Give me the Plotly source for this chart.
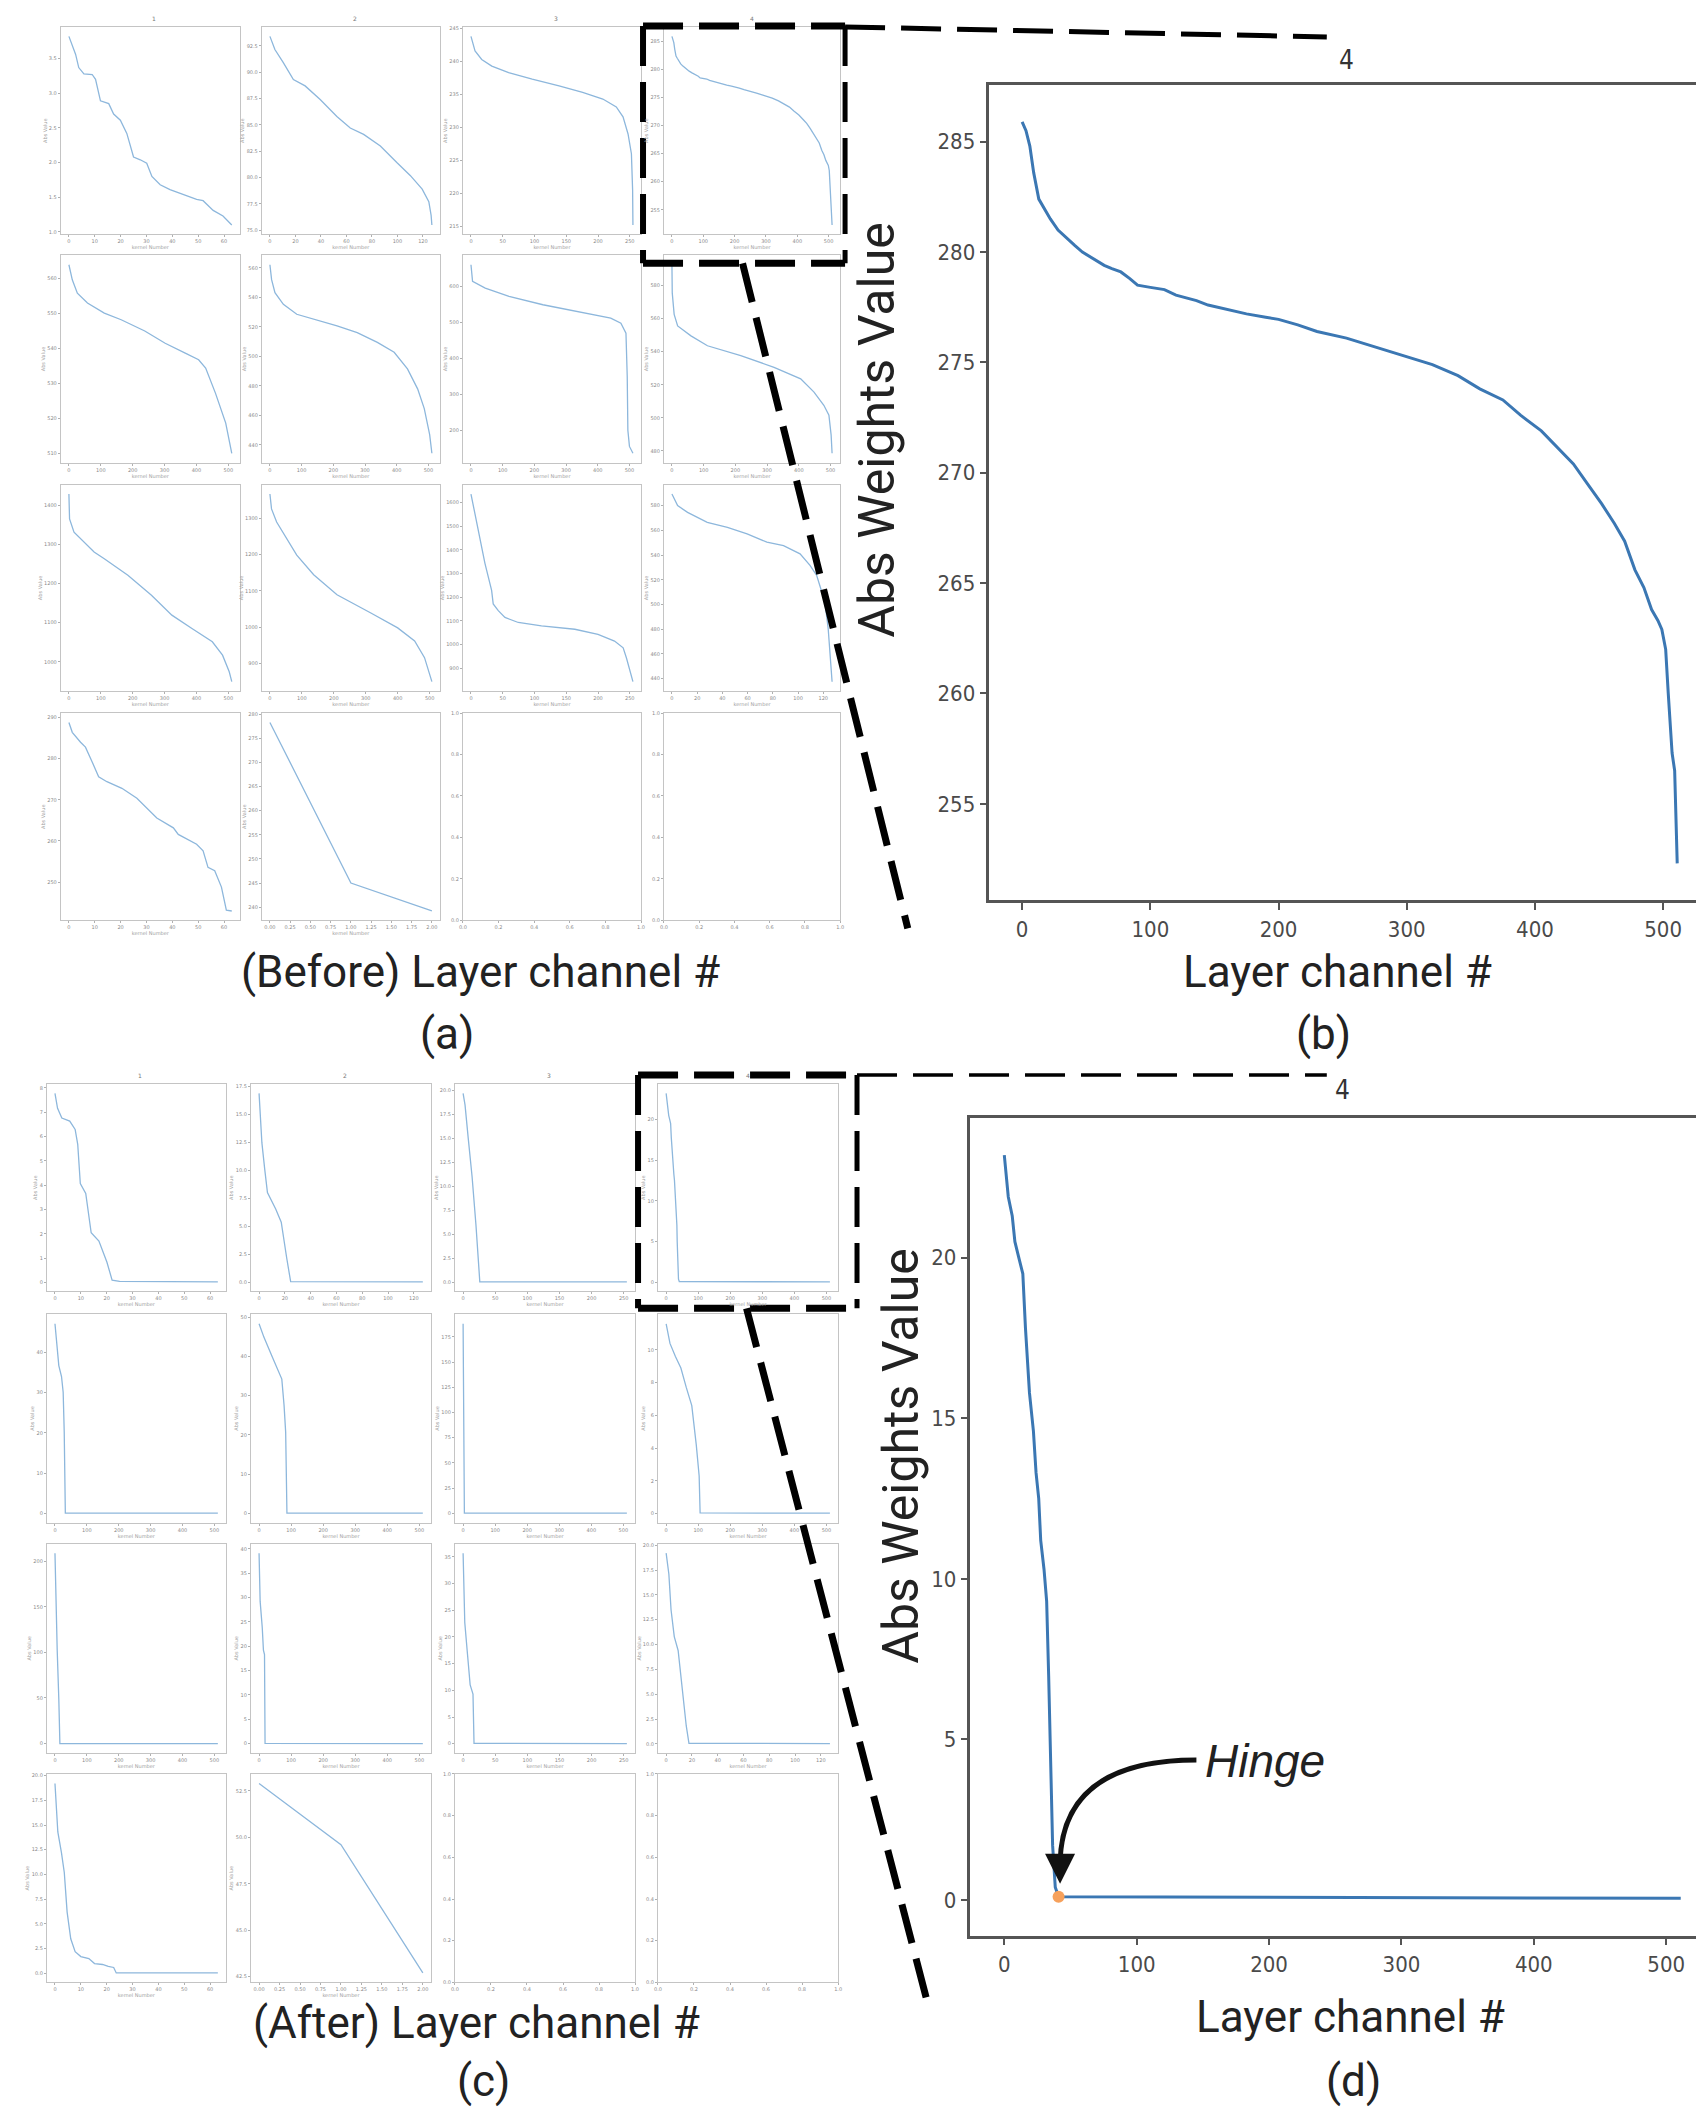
import plotly.graph_objects as go

W, H = 1704, 2116
OX, OY = 8, 8  # the page body margin shifts the figure; coordinates below are page pixels

# ---------------- data: (a) "Before" small multiples ----------------
a11_x = [0, 2.6, 3.8, 5.8, 9, 10.3, 12.2, 13.5, 15.4, 17.3, 19.9, 22.4, 25, 27.6, 30.1, 32.1, 35.3, 39.1, 44.2, 49.4, 51.9, 55.8, 59.6, 62.2, 63]
a11_y = [3.82, 3.56, 3.37, 3.28, 3.27, 3.2, 2.89, 2.87, 2.85, 2.70, 2.61, 2.42, 2.08, 2.04, 1.99, 1.80, 1.68, 1.61, 1.54, 1.47, 1.45, 1.31, 1.23, 1.12, 1.10]
a12_x = [0, 3.9, 10.5, 18.4, 27.6, 39.4, 52.5, 63, 73.5, 86.6, 99.7, 110, 119.4, 124.6, 126.4, 127]
a12_y = [93.4, 92.15, 90.9, 89.3, 88.7, 87.4, 85.8, 84.7, 84.1, 83.0, 81.4, 80.2, 78.9, 77.7, 76.4, 75.5]
a13_x = [0, 6.4, 16.9, 32.8, 59.3, 96.4, 138.7, 175.8, 207.6, 228.8, 239.4, 247.3, 252.6, 254.5, 255]
a13_y = [243.8, 241.6, 240.3, 239.3, 238.3, 237.3, 236.3, 235.3, 234.3, 233.1, 231.6, 229.0, 226.0, 220.5, 215.2]
a14_x = [0, 3, 6, 9, 13, 17, 22, 28, 35, 41, 47, 55, 64, 70, 77, 84, 90, 100, 111, 120, 136, 145, 160, 175, 190, 200,
         215, 230, 253, 270, 290, 305, 320, 340, 357, 375, 389, 405, 420, 430, 441, 452, 462, 470, 478, 485, 491, 496,
         499, 502, 504, 507, 509, 511]
a14_y = [285.9, 285.5, 284.8, 283.6, 282.4, 282.0, 281.5, 281.0, 280.6, 280.3, 280.0, 279.7, 279.4, 279.25, 279.1,
         278.8, 278.5, 278.4, 278.3, 278.05, 277.8, 277.6, 277.4, 277.2, 277.05, 276.95, 276.7, 276.4, 276.1, 275.8,
         275.45, 275.2, 274.9, 274.4, 273.8, 273.3, 272.6, 271.9, 271.0, 270.4, 269.5, 268.6, 267.7, 266.9, 265.6,
         264.8, 263.8, 263.3, 262.9, 262.0, 260.0, 257.3, 256.5, 252.3]
a21_x = [0, 10.6, 26.5, 58.2, 111, 164, 238, 302, 365, 407, 429, 460, 492, 511]
a21_y = [563.8, 559.5, 555.7, 552.9, 550, 548.1, 544.9, 541.4, 538.6, 536.7, 534.3, 527.1, 518.6, 510]
a22_x = [0, 5.3, 15.9, 42.4, 84.7, 159, 211.8, 275.4, 339, 392, 434, 466, 487, 504, 511]
a22_y = [562.2, 552.1, 543.2, 535.3, 528.6, 524.1, 520.7, 516.2, 509.5, 502.8, 491.5, 478, 464.6, 446.9, 434.3]
a23_x = [0, 2, 5, 45, 120, 227, 334, 441, 473, 489, 493, 495, 500, 511]
a23_y = [659, 627, 613, 594, 571, 548, 530, 511, 497, 469, 349, 200, 155, 136]
a24_x = [0, 1, 7, 18, 60, 112, 217, 322, 406, 448, 479, 495, 502, 505]
a24_y = [592.6, 575.6, 562.6, 555.6, 549.6, 543.6, 537.6, 530.6, 523.6, 515.6, 507.6, 501.6, 489.6, 478.6]
a31_x = [0, 2, 16, 48, 79, 111, 185, 259, 323, 386, 450, 482, 503, 511]
a31_y = [1429.6, 1365.8, 1331.9, 1306.4, 1281, 1263.8, 1221.4, 1170.4, 1119.4, 1085.3, 1051.3, 1017, 974.5, 949]
a32_x = [0, 5, 21, 52, 84, 137, 210, 316, 400, 453, 484, 507]
a32_y = [1366, 1325, 1289, 1244, 1198, 1144, 1089, 1039, 998, 962, 916, 850]
a33_x = [0, 11.6, 22, 32.5, 35, 43, 53.5, 74.5, 111, 163.5, 200, 226, 239.6, 244.8, 255]
a33_y = [1635.6, 1485.6, 1342.9, 1228.6, 1171.4, 1142.8, 1114.3, 1092.9, 1078.6, 1064.3, 1042.9, 1014.3, 985.7, 942.9, 842.8]
a34_x = [0, 4.5, 12.4, 28, 44, 59.6, 75.3, 88.5, 101.6, 109.5, 114.8, 121.3, 123.9, 127]
a34_y = [589.4, 580, 574.6, 566.5, 562.5, 557.1, 550.4, 547.7, 541, 531.6, 523.5, 502, 480.5, 437.5]
a41_x = [0, 1.3, 4.5, 6.4, 9, 11.5, 14.7, 20.5, 26.3, 30.1, 34, 40.4, 42.3, 49.4, 51.9, 53.8, 56.4, 59, 60.9, 63]
a41_y = [288.8, 286.4, 284, 282.8, 279.2, 275.6, 274.4, 272.8, 270.4, 268, 265.6, 263.2, 261.6, 259.2, 257.6, 253.6, 252.8, 248.8, 243.2, 243]
a42_x = [0, 1, 2]
a42_y = [278.3, 245.0, 239.2]

# ---------------- data: (c) "After" small multiples ----------------
c11_x = [0, 1, 2.65, 5.7, 7.8, 8.8, 9.8, 11.9, 14, 17, 20.1, 22.1, 25, 63]
c11_y = [7.77, 7.16, 6.76, 6.63, 6.29, 5.68, 4.07, 3.66, 2.05, 1.71, 0.84, 0.1, 0.05, 0.03]
c12_x = [0, 2.2, 4.4, 6.5, 12.9, 17.2, 21.5, 24.5, 127]
c12_y = [16.85, 12.43, 10.07, 8.01, 6.54, 5.36, 2.12, 0.05, 0.03]
c13_x = [0, 3, 8, 14, 20, 24, 26, 255]
c13_y = [19.7, 18.5, 15.0, 11.0, 6.0, 1.5, 0.05, 0.03]
c14_x = [0, 3, 6, 8, 11, 14, 16, 17, 19, 22, 24, 26, 27.5, 30, 32, 33.5, 34.5, 36.5, 38.5, 41, 511]
c14_y = [23.2, 21.9, 21.3, 20.5, 20.0, 19.5, 17.8, 17.1, 15.8, 14.6, 13.3, 12.5, 11.2, 10.3, 9.3, 7.0, 5.0, 1.7, 0.4, 0.1, 0.05]
c21_x = [0, 12, 20.5, 25.7, 29, 32.5, 511]
c21_y = [47.1, 36.7, 34.0, 30.1, 20.2, 0.05, 0.03]
c22_x = [0, 15, 41, 58, 71, 78, 83, 87, 511]
c22_y = [48.3, 44.9, 39.9, 36.5, 34.2, 27.5, 20.7, 0.05, 0.03]
c23_x = [0, 1, 2, 4, 511]
c23_y = [188, 120, 50, 0.05, 0.03]
c24_x = [0, 12, 29, 46, 63, 80, 94, 103, 106, 511]
c24_y = [11.6, 10.4, 9.6, 8.9, 7.7, 6.6, 4.2, 2.3, 0.05, 0.03]
c31_x = [0, 3.4, 7, 12, 15.4, 511]
c31_y = [208.8, 146, 102.4, 48.8, 0.05, 0.03]
c32_x = [0, 3.4, 10, 13.6, 17, 18.7, 511]
c32_y = [39.1, 29.2, 23.8, 19.2, 18.3, 0.05, 0.03]
c33_x = [0, 2.6, 6.8, 11, 15.4, 17, 255]
c33_y = [35.7, 22.7, 16.8, 11.0, 9.3, 0.05, 0.03]
c34_x = [0, 2.1, 3.8, 6.3, 9.3, 11.4, 13.5, 15.6, 17.7, 127]
c34_y = [19.2, 17.1, 13.5, 10.8, 9.4, 6.7, 4.5, 1.8, 0.05, 0.03]
c41_x = [0, 1.1, 2.5, 3.6, 4.7, 6.1, 7.8, 10, 13.1, 15.3, 18.4, 20.6, 22.7, 23.7, 63]
c41_y = [19.2, 14.3, 12.2, 10.2, 6.2, 3.5, 2.2, 1.7, 1.5, 1.0, 0.9, 0.7, 0.6, 0.05, 0.05]
c42_x = [0, 1, 2]
c42_y = [52.9, 49.6, 42.7]

# hinge point on panel (d)
hinge_x = [41]
hinge_y = [0.1]

# tick values
T_x64 = [0, 10, 20, 30, 40, 50, 60]
T_x128 = [0, 20, 40, 60, 80, 100, 120]
T_x256 = [0, 50, 100, 150, 200, 250]
T_x512 = [0, 100, 200, 300, 400, 500]
T_x2 = [0, 0.25, 0.5, 0.75, 1.0, 1.25, 1.5, 1.75, 2.0]
T_unit = [0, 0.2, 0.4, 0.6, 0.8, 1.0]

a_yt = {
    '11': [1.0, 1.5, 2.0, 2.5, 3.0, 3.5],
    '12': [75.0, 77.5, 80.0, 82.5, 85.0, 87.5, 90.0, 92.5],
    '13': [215, 220, 225, 230, 235, 240, 245],
    '14': [255, 260, 265, 270, 275, 280, 285],
    '21': [510, 520, 530, 540, 550, 560],
    '22': [440, 460, 480, 500, 520, 540, 560],
    '23': [200, 300, 400, 500, 600],
    '24': [480, 500, 520, 540, 560, 580],
    '31': [1000, 1100, 1200, 1300, 1400],
    '32': [900, 1000, 1100, 1200, 1300],
    '33': [800, 900, 1000, 1100, 1200, 1300, 1400, 1500, 1600],
    '34': [440, 460, 480, 500, 520, 540, 560, 580],
    '41': [250, 260, 270, 280, 290],
    '42': [240, 245, 250, 255, 260, 265, 270, 275, 280],
}
c_yt = {
    '11': [0, 1, 2, 3, 4, 5, 6, 7, 8],
    '12': [0.0, 2.5, 5.0, 7.5, 10.0, 12.5, 15.0, 17.5],
    '13': [0.0, 2.5, 5.0, 7.5, 10.0, 12.5, 15.0, 17.5, 20.0],
    '14': [0, 5, 10, 15, 20],
    '21': [0, 10, 20, 30, 40],
    '22': [0, 10, 20, 30, 40, 50],
    '23': [0, 25, 50, 75, 100, 125, 150, 175],
    '24': [0, 2, 4, 6, 8, 10],
    '31': [0, 50, 100, 150, 200],
    '32': [0, 5, 10, 15, 20, 25, 30, 35, 40],
    '33': [0, 5, 10, 15, 20, 25, 30, 35],
    '34': [0.0, 2.5, 5.0, 7.5, 10.0, 12.5, 15.0, 17.5, 20.0],
    '41': [0.0, 2.5, 5.0, 7.5, 10.0, 12.5, 15.0, 17.5, 20.0],
    '42': [42.5, 45.0, 47.5, 50.0, 52.5],
}

big_b_yt = [255, 260, 265, 270, 275, 280, 285]
big_d_yt = [0, 5, 10, 15, 20]

# ---------------- layout geometry (page pixels) ----------------
a_cols = [(57, 237), (259, 438), (461, 640), (663, 840)]
a_rows = [(24, 232), (253, 461), (483, 690), (712, 920)]
c_cols = [(43, 223), (248, 429), (453, 634), (657, 838)]
c_rows = [(1084, 1292), (1315, 1524), (1545, 1755), (1776, 1985)]

fig = go.Figure()
layout = {}
annotations = []
shapes = []
counter = [0]

SMALL_LINE = '#8db7dc'


def px(x):
    return (x - OX) / W


def py(y):
    return 1 - (y - OY) / H


def mpl_range(v):
    lo, hi = min(v), max(v)
    m = (hi - lo) * 0.05
    return [lo - m, hi + m]


def fmt_for(ticks):
    if all(abs(t - round(t)) < 1e-9 for t in ticks):
        return 'd'
    if all(abs(t * 2 - round(t * 2)) < 1e-9 for t in ticks):
        return '.1f'
    return '.2f'


def add_small(col, row, xs, ys, xt, yt, title=None, empty=False):
    counter[0] += 1
    n = counter[0]
    l, r = col
    t, b = row
    xk = 'xaxis' if n == 1 else f'xaxis{n}'
    yk = 'yaxis' if n == 1 else f'yaxis{n}'
    xr = 'x' if n == 1 else f'x{n}'
    yr = 'y' if n == 1 else f'y{n}'
    tf = dict(family='DejaVu Sans', size=5, color='#8a8a8a')
    common = dict(showgrid=False, zeroline=False, showline=True, linecolor='#c4c4c4', linewidth=1,
                  mirror=True, ticks='outside', ticklen=2, tickwidth=1, tickcolor='#b0b0b0', tickfont=tf)
    if empty:
        xrng, yrng = [0, 1], [0, 1]
    else:
        xrng, yrng = mpl_range(xs), mpl_range(ys)
    layout[xk] = dict(domain=[px(l), px(r)], anchor=yr, range=xrng, tickvals=xt,
                      tickformat=('.1f' if empty else fmt_for(xt)), **common)
    layout[yk] = dict(domain=[py(b), py(t)], anchor=xr, range=yrng, tickvals=yt,
                      tickformat=('.1f' if empty else fmt_for(yt)), **common)
    if not empty:
        small_title_font = dict(family='DejaVu Sans', size=5, color='#a0a0a0')
        layout[xk]['title'] = dict(text='kernel Number', font=small_title_font, standoff=1)
        layout[yk]['title'] = dict(text='Abs Value', font=small_title_font, standoff=1)
        fig.add_trace(go.Scatter(x=xs, y=ys, mode='lines', line=dict(color=SMALL_LINE, width=1.3),
                                 xaxis=xr, yaxis=yr, showlegend=False, hoverinfo='skip'))
    else:
        fig.add_trace(go.Scatter(x=[None], y=[None], xaxis=xr, yaxis=yr, showlegend=False))
    if title:
        annotations.append(dict(text=title, x=px((l + r) / 2), y=py(t - 3), xref='paper', yref='paper',
                                showarrow=False, yanchor='bottom', font=dict(family='DejaVu Sans', size=6,
                                                                            color='#777')))
    return n


A = [
    [(a11_x, a11_y, T_x64, a_yt['11'], '1'), (a12_x, a12_y, T_x128, a_yt['12'], '2'),
     (a13_x, a13_y, T_x256, a_yt['13'], '3'), (a14_x, a14_y, T_x512, a_yt['14'], '4')],
    [(a21_x, a21_y, T_x512, a_yt['21'], None), (a22_x, a22_y, T_x512, a_yt['22'], None),
     (a23_x, a23_y, T_x512, a_yt['23'], None), (a24_x, a24_y, T_x512, a_yt['24'], None)],
    [(a31_x, a31_y, T_x512, a_yt['31'], None), (a32_x, a32_y, T_x512, a_yt['32'], None),
     (a33_x, a33_y, T_x256, a_yt['33'], None), (a34_x, a34_y, T_x128, a_yt['34'], None)],
    [(a41_x, a41_y, T_x64, a_yt['41'], None), (a42_x, a42_y, T_x2, a_yt['42'], None), None, None],
]
C = [
    [(c11_x, c11_y, T_x64, c_yt['11'], '1'), (c12_x, c12_y, T_x128, c_yt['12'], '2'),
     (c13_x, c13_y, T_x256, c_yt['13'], '3'), (c14_x, c14_y, T_x512, c_yt['14'], '4')],
    [(c21_x, c21_y, T_x512, c_yt['21'], None), (c22_x, c22_y, T_x512, c_yt['22'], None),
     (c23_x, c23_y, T_x512, c_yt['23'], None), (c24_x, c24_y, T_x512, c_yt['24'], None)],
    [(c31_x, c31_y, T_x512, c_yt['31'], None), (c32_x, c32_y, T_x512, c_yt['32'], None),
     (c33_x, c33_y, T_x256, c_yt['33'], None), (c34_x, c34_y, T_x128, c_yt['34'], None)],
    [(c41_x, c41_y, T_x64, c_yt['41'], None), (c42_x, c42_y, T_x2, c_yt['42'], None), None, None],
]

for grid, cols, rows in ((A, a_cols, a_rows), (C, c_cols, c_rows)):
    for ri, rowdata in enumerate(grid):
        for ci, p in enumerate(rowdata):
            if p is None:
                add_small(cols[ci], rows[ri], None, None, T_unit, T_unit, empty=True)
            else:
                xs, ys, xt, yt, ttl = p
                add_small(cols[ci], rows[ri], xs, ys, xt, yt, title=ttl)

# ---------------- big panels ----------------
BIG_LINE = '#3b77b3'
big_tf = dict(family='DejaVu Sans Condensed, DejaVu Sans', size=22, color='#4a4a4a')
big_common = dict(showgrid=False, zeroline=False, showline=True, linecolor='#555555', linewidth=2.5,
                  ticks='outside', ticklen=7, tickwidth=2, tickcolor='#555555', tickfont=big_tf)


def add_big(xs, ys, l, t, b, px_per_unit, yt):
    counter[0] += 1
    n = counter[0]
    xk, yk, xr, yr = f'xaxis{n}', f'yaxis{n}', f'x{n}', f'y{n}'
    x0 = -0.05 * (max(xs) - min(xs)) + min(xs)
    x1 = x0 + (W + OX - l) / px_per_unit
    layout[xk] = dict(domain=[px(l), 1.0], anchor=yr, range=[x0, x1], tickvals=T_x512, mirror=True,
                      **big_common)
    layout[yk] = dict(domain=[py(b), py(t)], anchor=xr, range=mpl_range(ys), tickvals=yt, mirror=False,
                      **big_common)
    fig.add_trace(go.Scatter(x=xs, y=ys, mode='lines', line=dict(color=BIG_LINE, width=3),
                             xaxis=xr, yaxis=yr, showlegend=False, hoverinfo='skip'))
    return xr, yr


add_big(a14_x, a14_y, 990, 82, 900, 1.288, big_b_yt)
dxr, dyr = add_big(c14_x, c14_y, 971, 1118, 1938, 1.33, big_d_yt)
fig.add_trace(go.Scatter(x=hinge_x, y=hinge_y, mode='markers', marker=dict(color='#f6a15c', size=12),
                         xaxis=dxr, yaxis=dyr, showlegend=False, hoverinfo='skip'))

# ---------------- texts ----------------
CAP = dict(family='Roboto, sans-serif', size=44, color='#222222')
YT = dict(family='Roboto, sans-serif', size=50, color='#222222')


def text(s, x, y, font=CAP, angle=0):
    annotations.append(dict(text=s, x=px(x), y=py(y), xref='paper', yref='paper', showarrow=False,
                            xanchor='center', yanchor='middle', font=font, textangle=angle))


text('(Before) Layer channel #', 479, 972)
text('(a)', 445, 1034)
text('Layer channel #', 1340, 972)
text('(b)', 1326, 1034)
text('(After) Layer channel #', 475, 2026)
text('(c)', 482, 2084)
text('Layer channel #', 1353, 2020)
text('(d)', 1356, 2084)
text('Abs Weights Value', 877, 428, font=YT, angle=-90)
text('Abs Weights Value', 901, 1457, font=YT, angle=-90)
text('4', 1349, 57, font=dict(family='DejaVu Sans Condensed, DejaVu Sans', size=26, color='#333333'))
text('4', 1345, 1090, font=dict(family='DejaVu Sans Condensed, DejaVu Sans', size=26, color='#333333'))
text('<i>Hinge</i>', 1267, 1763, font=dict(family='Liberation Sans, Arial, sans-serif', size=46, color='#222222'))

# curved arrow towards the hinge
shapes.append(dict(type='path', xref='paper', yref='paper',
                   path=f'M {px(1198)},{py(1762)} C {px(1110)},{py(1762)} {px(1062)},{py(1795)} {px(1061)},{py(1866)}',
                   line=dict(color='#111111', width=5)))
annotations.append(dict(x=px(1061), y=py(1886), ax=0, ay=-24, xref='paper', yref='paper',
                        showarrow=True, arrowhead=2, arrowsize=1.2,
                        arrowwidth=5, arrowcolor='#111111', text=''))

# ---------------- dashed zoom guides ----------------
DASH = '40px,16px'


def dline(x0, y0, x1, y1, w):
    shapes.append(dict(type='line', xref='paper', yref='paper', x0=px(x0), y0=py(y0), x1=px(x1), y1=py(y1),
                       line=dict(color='black', width=w, dash=DASH)))


dline(642, 23, 845, 23, 7)
dline(642, 23, 642, 261, 6)
dline(642, 261, 845, 261, 7)
dline(845, 23, 845, 261, 5)
dline(845, 24, 1329, 34, 5)
dline(742, 261, 908, 928, 7)

dline(637, 1075, 857, 1075, 7)
dline(637, 1075, 637, 1309, 6)
dline(637, 1309, 857, 1309, 7)
dline(857, 1075, 857, 1309, 5)
dline(857, 1075, 1329, 1075, 3.5)
dline(746, 1309, 928, 2006, 7)

layout.update(dict(width=W, height=H, margin=dict(l=0, r=0, t=0, b=0), paper_bgcolor='white',
                   plot_bgcolor='white', showlegend=False, annotations=annotations, shapes=shapes))
fig.update_layout(**layout)
fig.write_html('out.html')
